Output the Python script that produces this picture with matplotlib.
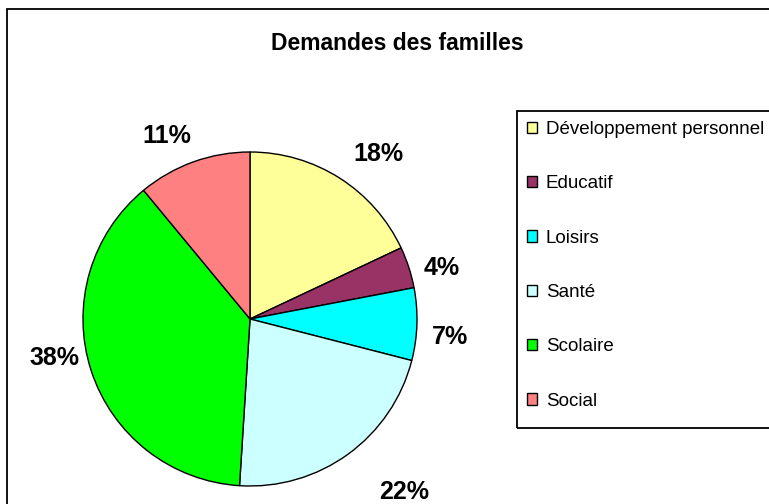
import numpy as np
import matplotlib
matplotlib.use('Agg')
import matplotlib.pyplot as plt
from matplotlib.patches import Rectangle

plt.rcParams['font.family'] = ['Liberation Sans', 'DejaVu Sans']

categories = ['Développement personnel', 'Educatif', 'Loisirs', 'Santé', 'Scolaire', 'Social']
values = [18, 4, 7, 22, 38, 11]
colors = ['#FFFF99', '#993366', '#00FFFF', '#CCFFFF', '#00FF00', '#FF8080']

W, H = 769, 504
fig = plt.figure(figsize=(W / 100, H / 100), dpi=100)

# chart area border (runs off right/bottom like the original)
fig.patches.append(Rectangle((7 / W, -0.1), 1.2, (H - 9) / H + 0.1, transform=fig.transFigure,
                             fill=False, ec='black', lw=1.3))
# legend box
fig.patches.append(Rectangle((517 / W, (H - 428) / H), 0.5, (428 - 111) / H, transform=fig.transFigure,
                             fill=False, ec='black', lw=1.3))

fig.text(397 / W, 1 - 44 / H, 'Demandes des familles', ha='center', va='center',
         fontsize=16.5, fontweight='bold')

# pie axes, centre (250, 319) px, radius 167 px
cx, cy, r = 250, 319, 167
lim = 1.03
half = r * lim
ax = fig.add_axes([(cx - half) / W, (H - cy - half) / H, 2 * half / W, 2 * half / H])
wedges, texts, autotexts = ax.pie(values, colors=colors, startangle=90, counterclock=False,
                                  autopct='%1.0f%%', pctdistance=1.1,
                                  wedgeprops=dict(edgecolor='black', linewidth=1),
                                  textprops=dict(fontsize=18, fontweight='bold'))
ax.set_xlim(-lim, lim)
ax.set_ylim(-lim, lim)

# Excel "best fit" puts some labels off the mid-angle; small nudges in px
nudge = [(7, 1), (2, -17), (2, -12), (23, -15), (1, 29), (2, 1)]

# put each label just outside its slice, anchored by the nearest corner
for w, t, (dx, dy) in zip(wedges, autotexts, nudge):
    th = np.deg2rad((w.theta1 + w.theta2) / 2)
    c, s = np.cos(th), np.sin(th)
    t.set_position((1.08 * c + dx / r, 1.08 * s + dy / r))
    t.set_ha('left' if c > 0.05 else ('right' if c < -0.05 else 'center'))
    t.set_va('bottom' if s > 0.05 else ('top' if s < -0.05 else 'center'))
    t.set_clip_on(False)

fig.legend(wedges, categories, loc='upper left', bbox_to_anchor=(527 / W, 1 - 121 / H),
           frameon=False, fontsize=13.5, handlelength=0.55, handleheight=0.55,
           handletextpad=0.45, labelspacing=1.99, borderpad=0, borderaxespad=0)

fig.savefig('out.png', dpi=100)
